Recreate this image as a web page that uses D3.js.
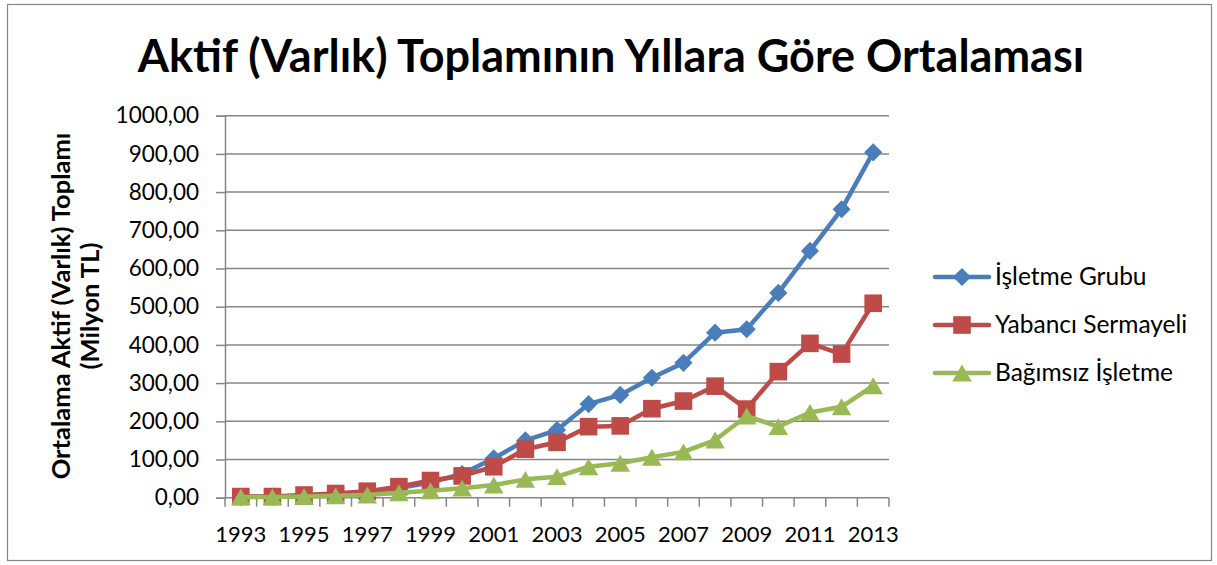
<!DOCTYPE html>
<html>
<head>
<meta charset="utf-8">
<script src="https://cdn.jsdelivr.net/npm/d3@7"></script>
<style>
  body { margin: 0; background: #fff; }
  svg text { font-family: "Lato", "Open Sans", sans-serif; }
</style>
</head>
<body>
<div id="chart"></div>
<script>
// data
var years = [1993, 1994, 1995, 1996, 1997, 1998, 1999, 2000, 2001, 2002, 2003,
             2004, 2005, 2006, 2007, 2008, 2009, 2010, 2011, 2012, 2013];
var isletmeGrubu = [2, 3, 5, 8, 14, 25, 40, 62, 103, 150, 177,
                    245, 269, 314, 353, 432, 441, 536, 646, 755, 904];
var yabanciSermayeli = [3, 3, 7, 11, 17, 29, 45, 57, 81, 127, 145,
                        186, 188, 233, 253, 292, 232, 330, 404, 376, 509];
var bagimsizIsletme = [2, 2, 3, 5, 7, 13, 18, 25, 33, 48, 55,
                       81, 90, 106, 120, 151, 214, 186, 223, 238, 293];
var yTicks = [0, 100, 200, 300, 400, 500, 600, 700, 800, 900, 1000];
var seriesNames = ["İşletme Grubu", "Yabancı Sermayeli", "Bağımsız İşletme"];
var seriesColors = ["#4a7ebb", "#be4b48", "#98b954"];
var seriesShapes = [d3.symbolDiamond2, d3.symbolSquare, d3.symbolTriangle];

var W = 1217, H = 565;
var plotLeft = 225, plotRight = 889, plotTop = 115.7, plotBottom = 497.7;

var svg = d3.select("#chart").append("svg")
    .attr("width", W)
    .attr("height", H);

// outer frame
svg.append("rect")
    .attr("x", 7.5).attr("y", 4.5)
    .attr("width", 1204).attr("height", 556)
    .attr("fill", "#fff")
    .attr("stroke", "#868686")
    .attr("stroke-width", 1.2);

svg.append("text")
    .attr("x", 611).attr("y", 72)
    .attr("text-anchor", "middle")
    .style("font-size", "45px")
    .style("font-weight", "bold")
    .text("Aktif (Varlık) Toplamının Yıllara Göre Ortalaması");

var x = d3.scaleBand().domain(years).range([plotLeft, plotRight]).padding(0);
var y = d3.scaleLinear().domain([0, 1000]).range([plotBottom, plotTop]);

// gridlines
svg.append("g").selectAll("line")
    .data(yTicks.slice(1))
    .enter().append("line")
    .attr("x1", plotLeft).attr("x2", plotRight)
    .attr("y1", function(d) { return y(d); })
    .attr("y2", function(d) { return y(d); })
    .attr("stroke", "#868686")
    .attr("stroke-width", 1.5);

// y axis
var yAxis = d3.axisLeft(y)
    .tickValues(yTicks)
    .tickSize(9)
    .tickPadding(17)
    .tickFormat(function(d) { return d3.format(".2f")(d).replace(".", ","); });
var gy = svg.append("g").attr("transform", "translate(" + plotLeft + ",0)").call(yAxis);
gy.select(".domain").attr("stroke", "#868686").attr("stroke-width", 1.5);
gy.selectAll(".tick line").attr("stroke", "#868686").attr("stroke-width", 1.5);
gy.selectAll(".tick text").style("font-size", "22.5px").attr("fill", "#000")
    .style("font-family", "Lato, sans-serif");

// x axis: ticks between categories, labels every other year
var gx = svg.append("g").attr("transform", "translate(0," + plotBottom + ")");
gx.append("line")
    .attr("x1", plotLeft).attr("x2", plotRight)
    .attr("stroke", "#868686").attr("stroke-width", 1.5);
gx.selectAll(".tk")
    .data(years)
    .enter().append("line")
    .attr("class", "tk")
    .attr("x1", function(d) { return x(d) + x.bandwidth(); })
    .attr("x2", function(d) { return x(d) + x.bandwidth(); })
    .attr("y1", 0).attr("y2", 9)
    .attr("stroke", "#868686").attr("stroke-width", 1.5);
gx.append("line")
    .attr("x1", plotLeft).attr("x2", plotLeft).attr("y1", 0).attr("y2", 9)
    .attr("stroke", "#868686").attr("stroke-width", 1.5);
gx.selectAll("text")
    .data(years.filter(function(d, i) { return i % 2 === 0; }))
    .enter().append("text")
    .attr("x", function(d) { return x(d) + x.bandwidth() / 2; })
    .attr("y", 44)
    .attr("text-anchor", "middle")
    .style("font-size", "22px")
    .text(function(d) { return d; });

// y axis title
var yt = svg.append("text")
    .attr("transform", "translate(61,306) rotate(-90)")
    .attr("text-anchor", "middle")
    .style("font-size", "25.5px")
    .style("font-weight", "bold");
yt.append("tspan").attr("x", 0).attr("dy", "0.35em").text("Ortalama Aktif (Varlık) Toplamı");
yt.append("tspan").attr("x", 0).attr("dy", "1.15em").text("(Milyon TL)");

var allSeries = [isletmeGrubu, yabanciSermayeli, bagimsizIsletme];
var line = d3.line()
    .x(function(d, i) { return x(years[i]) + x.bandwidth() / 2; })
    .y(function(d) { return y(d); });

var markerSize = [210, 310, 165];
// d3 centres the triangle on its centroid; shift it so its box is centred
var markerDy = [0, 0, 2.8];

allSeries.forEach(function(vals, s) {
    svg.append("path")
        .datum(vals)
        .attr("d", line)
        .attr("fill", "none")
        .attr("stroke", seriesColors[s])
        .attr("stroke-width", 4.5)
        .attr("stroke-linejoin", "round");
    svg.append("g").selectAll("path")
        .data(vals)
        .enter().append("path")
        .attr("transform", function(d, i) {
            return "translate(" + (x(years[i]) + x.bandwidth() / 2) + "," + (y(d) + markerDy[s]) + ")";
        })
        .attr("d", d3.symbol().type(seriesShapes[s]).size(markerSize[s]))
        .attr("fill", seriesColors[s]);
});

// legend
var legend = svg.append("g");
seriesNames.forEach(function(name, s) {
    var ly = 277 + s * 48;
    legend.append("line")
        .attr("x1", 935).attr("x2", 989)
        .attr("y1", ly).attr("y2", ly)
        .attr("stroke", seriesColors[s])
        .attr("stroke-width", 4.5)
        .attr("stroke-linecap", "round");
    legend.append("path")
        .attr("transform", "translate(962," + (ly + markerDy[s]) + ")")
        .attr("d", d3.symbol().type(seriesShapes[s]).size(markerSize[s]))
        .attr("fill", seriesColors[s]);
    legend.append("text")
        .attr("x", 995).attr("y", ly + 8)
        .style("font-size", "24.5px")
        .text(name);
});
</script>
</body>
</html>
